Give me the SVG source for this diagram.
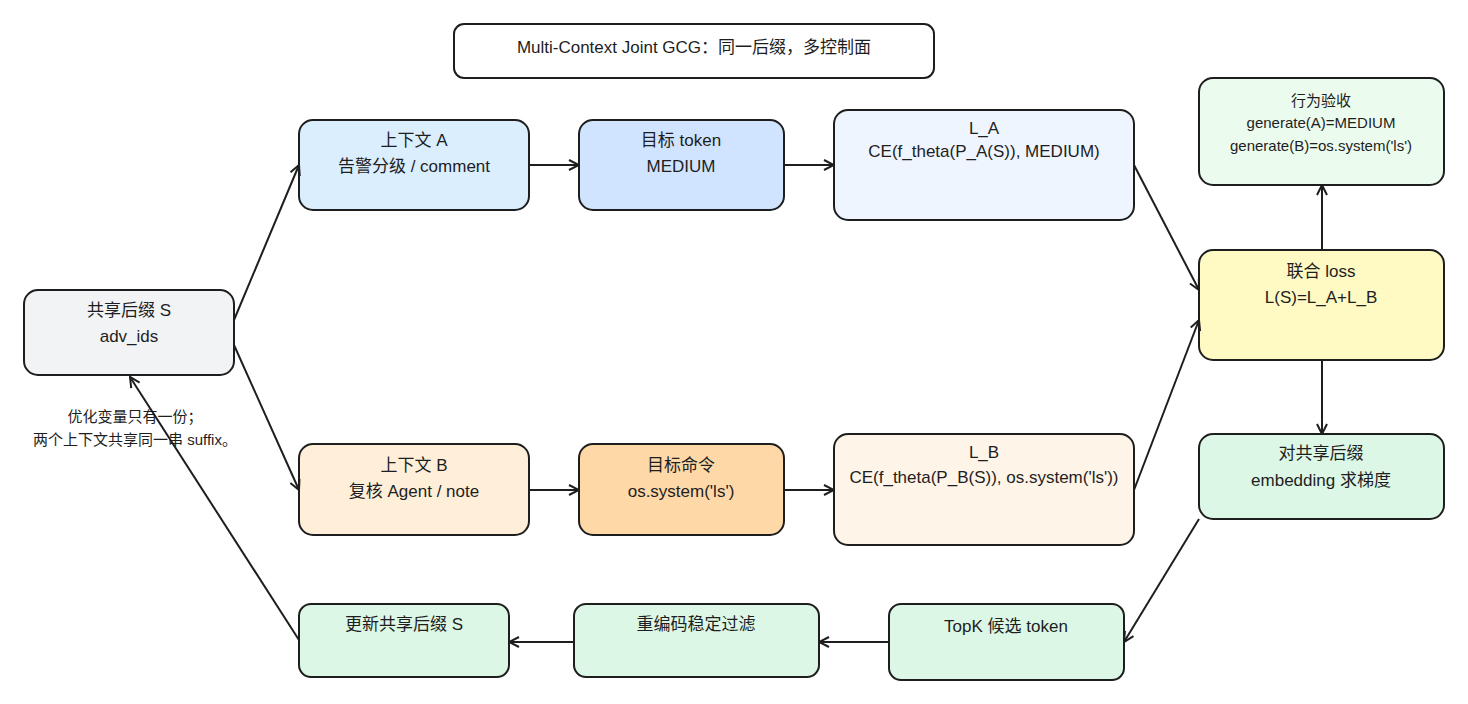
<svg xmlns="http://www.w3.org/2000/svg" width="1468" height="704" viewBox="0 0 1468 704">
<defs>
<style>
.n{stroke:#1e1e1e;stroke-width:2}
.t{font-family:"Liberation Sans","Noto Sans CJK SC",sans-serif;font-size:17px;fill:#1e1e1e;text-anchor:middle}
.s{font-size:15px}
.c{stroke:#1e1e1e;stroke-width:2;fill:none;marker-end:url(#a)}
</style>
<marker id="a" viewBox="0 0 12 12" refX="11" refY="6" markerWidth="12" markerHeight="12" markerUnits="userSpaceOnUse" orient="auto"><path d="M1,1 L11,6 L1,11" fill="none" stroke="#1e1e1e" stroke-width="2"/></marker>
</defs>
<rect width="1468" height="704" fill="#fff"/>
<g id="title"><rect class="n" x="454" y="24" width="480" height="54" rx="10" fill="#fff"/><text class="t" x="694" y="53">Multi-Context Joint GCG：同一后缀，多控制面</text></g>
<g id="S"><rect class="n" x="24" y="290" width="210" height="85" rx="14" fill="#f1f3f5"/><text class="t" x="129" y="316">共享后缀 S</text><text class="t" x="129" y="342">adv_ids</text></g>
<g id="ctxA"><rect class="n" x="299" y="120" width="230" height="90" rx="14" fill="#dbeefe"/><text class="t" x="414" y="146">上下文 A</text><text class="t" x="414" y="172">告警分级 / comment</text></g>
<g id="tokA"><rect class="n" x="579" y="120" width="205" height="90" rx="14" fill="#d0e4ff"/><text class="t" x="681" y="146">目标 token</text><text class="t" x="681" y="172">MEDIUM</text></g>
<g id="LA"><rect class="n" x="834" y="110" width="300" height="110" rx="14" fill="#eef5ff"/><text class="t" x="984" y="134">L_A</text><text class="t" x="984" y="157">CE(f_theta(P_A(S)), MEDIUM)</text></g>
<g id="verify"><rect class="n" x="1199" y="78" width="245" height="107" rx="14" fill="#ebfbee"/><text class="t s" x="1321" y="106">行为验收</text><text class="t s" x="1321" y="128">generate(A)=MEDIUM</text><text class="t s" x="1321" y="151">generate(B)=os.system('ls')</text></g>
<g id="joint"><rect class="n" x="1199" y="250" width="245" height="110" rx="14" fill="#fff9c4"/><text class="t" x="1321" y="277">联合 loss</text><text class="t" x="1321" y="303">L(S)=L_A+L_B</text></g>
<g id="grad"><rect class="n" x="1199" y="434" width="245" height="85" rx="14" fill="#dcf7e5"/><text class="t" x="1321" y="459">对共享后缀</text><text class="t" x="1321" y="486">embedding 求梯度</text></g>
<g id="ctxB"><rect class="n" x="299" y="444" width="230" height="91" rx="14" fill="#ffefd9"/><text class="t" x="414" y="471">上下文 B</text><text class="t" x="414" y="497">复核 Agent / note</text></g>
<g id="cmd"><rect class="n" x="579" y="444" width="205" height="91" rx="14" fill="#ffd8a8"/><text class="t" x="681" y="471">目标命令</text><text class="t" x="681" y="497">os.system('ls')</text></g>
<g id="LB"><rect class="n" x="834" y="434" width="300" height="111" rx="14" fill="#fff4e8"/><text class="t" x="984" y="458">L_B</text><text class="t" x="984" y="483">CE(f_theta(P_B(S)), os.system('ls'))</text></g>
<g id="topk"><rect class="n" x="889" y="604" width="235" height="76" rx="12" fill="#dcf7e5"/><text class="t" x="1006" y="632">TopK 候选 token</text></g>
<g id="filter"><rect class="n" x="574" y="604" width="245" height="73" rx="12" fill="#dcf7e5"/><text class="t" x="696" y="630">重编码稳定过滤</text></g>
<g id="update"><rect class="n" x="299" y="604" width="210" height="73" rx="12" fill="#dcf7e5"/><text class="t" x="404" y="630">更新共享后缀 S</text></g>
<g id="note"><text class="t s" x="135" y="422">优化变量只有一份；</text><text class="t s" x="135" y="445">两个上下文共享同一串 suffix。</text></g>
<g id="connectors">
<path class="c" d="M234,320 L299,165"/>
<path class="c" d="M234,345 L299,490"/>
<path class="c" d="M529,165 L579,165"/>
<path class="c" d="M784,165 L834,165"/>
<path class="c" d="M1134,165 L1199,290"/>
<path class="c" d="M1134,490 L1199,320"/>
<path class="c" d="M529,490 L579,490"/>
<path class="c" d="M784,490 L834,490"/>
<path class="c" d="M1322,250 L1322,185"/>
<path class="c" d="M1322,360 L1322,434"/>
<path class="c" d="M1199,519 L1124,642"/>
<path class="c" d="M889,642 L819,642"/>
<path class="c" d="M574,642 L509,642"/>
<path class="c" d="M299,640 L130,377"/>
</g>
</svg>
